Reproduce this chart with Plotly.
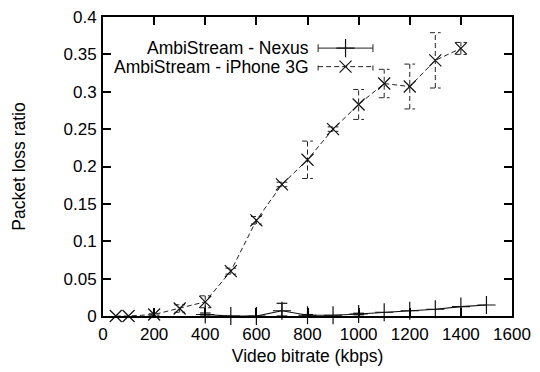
import plotly.graph_objects as go

# Packet loss vs video bitrate
iphone_kbps = [50, 100, 200, 300, 400, 500, 600, 700, 800, 900, 1000, 1100, 1200, 1300, 1400]
iphone_loss = [0.0, 0.0, 0.002, 0.010, 0.019, 0.060, 0.128, 0.176, 0.209, 0.250, 0.283, 0.311, 0.307, 0.342, 0.358]
iphone_err = [0.0, 0.0, 0.001, 0.005, 0.008, 0.004, 0.005, 0.003, 0.025, 0.003, 0.020, 0.019, 0.030, 0.037, 0.008]

nexus_kbps = [400, 500, 600, 700, 800, 900, 1000, 1100, 1200, 1300, 1400, 1500]
nexus_loss = [0.002, 0.0, 0.0, 0.007, 0.001, 0.001, 0.0027, 0.005, 0.007, 0.009, 0.0125, 0.0147]
nexus_err_up = [0.002, 0.0, 0.0, 0.010, 0.001, 0.0, 0.001, 0.0, 0.0, 0.0, 0.0, 0.0]
nexus_err_down = [0.002, 0.0, 0.0, 0.007, 0.001, 0.0, 0.001, 0.0, 0.0, 0.0, 0.0, 0.0]

x_ticks = [0, 200, 400, 600, 800, 1000, 1200, 1400, 1600]
y_ticks = [0, 0.05, 0.1, 0.15, 0.2, 0.25, 0.3, 0.35, 0.4]

series_names = ["AmbiStream - Nexus", "AmbiStream - iPhone 3G"]

FONT = "Liberation Sans, Arial, Helvetica, sans-serif"
TICK_SIZE = 17
TEXT_SIZE = 17.5
KEY_SIZE = 17.5
CAP = 21  # half width of error-bar caps, in kbps
DASH = "5px,3px"
INK = "#111"


def error_segments(xs, ys, up, down):
    """Vertical bars with caps as one broken polyline."""
    px, py = [], []
    for x, y, u, d in zip(xs, ys, up, down):
        if u == 0 and d == 0:
            continue
        lo, hi = y - d, y + u
        px += [x, x, None, x - CAP, x + CAP, None, x - CAP, x + CAP, None]
        py += [lo, hi, None, lo, lo, None, hi, hi, None]
    return px, py


fig = go.Figure()

# iPhone 3G: dashed error bars, dashed line, x markers
ex, ey = error_segments(iphone_kbps, iphone_loss, iphone_err, iphone_err)
fig.add_trace(go.Scatter(x=ex, y=ey, mode="lines", connectgaps=False,
                         line=dict(color="#222", width=1, dash=DASH),
                         showlegend=False, hoverinfo="skip", cliponaxis=False))
fig.add_trace(go.Scatter(x=iphone_kbps, y=iphone_loss, mode="lines+markers",
                         line=dict(color="#222", width=1, dash=DASH),
                         marker=dict(symbol="x-thin-open", size=12, color=INK,
                                     line=dict(color=INK, width=1.2)),
                         showlegend=False, cliponaxis=False))

# Nexus: solid error bars, solid line, + markers
nx, ny = error_segments(nexus_kbps, nexus_loss, nexus_err_up, nexus_err_down)
fig.add_trace(go.Scatter(x=nx, y=ny, mode="lines", connectgaps=False,
                         line=dict(color=INK, width=1.2),
                         showlegend=False, hoverinfo="skip", cliponaxis=False))
fig.add_trace(go.Scatter(x=nexus_kbps, y=nexus_loss, mode="lines+markers",
                         line=dict(color=INK, width=1.2),
                         marker=dict(symbol="cross-thin-open", size=13, color=INK,
                                     line=dict(color=INK, width=1.2)),
                         showlegend=False, cliponaxis=False))

# Key drawn on an overlay axis in [0, 1] units
key_x0, key_x1, key_xm = 0.526, 0.660, 0.593
key_rows = [0.896, 0.834]
key_cap = 0.013
key_styles = [
    dict(dash="solid", symbol="cross-thin-open", size=13),
    dict(dash=DASH, symbol="x-thin-open", size=12),
]
for name, ky, st in zip(series_names, key_rows, key_styles):
    fig.add_trace(go.Scatter(
        x=[key_x0, key_x1, None, key_x0, key_x0, None, key_x1, key_x1],
        y=[ky, ky, None, ky - key_cap, ky + key_cap, None, ky - key_cap, ky + key_cap],
        mode="lines", line=dict(color="#222", width=1, dash=st["dash"]),
        xaxis="x2", yaxis="y2", showlegend=False, hoverinfo="skip"))
    fig.add_trace(go.Scatter(
        x=[key_xm], y=[ky], mode="markers",
        marker=dict(symbol=st["symbol"], size=st["size"], color=INK,
                    line=dict(color=INK, width=1.2)),
        xaxis="x2", yaxis="y2", showlegend=False, hoverinfo="skip"))
    fig.add_annotation(x=0.506, y=ky, xref="paper", yref="paper",
                       text=name, showarrow=False, xanchor="right", yanchor="middle",
                       borderpad=0,
                       font=dict(family=FONT, size=KEY_SIZE, color="black"))

axis_common = dict(
    showline=True, linecolor="black", linewidth=2, mirror="ticks",
    ticks="inside", ticklen=8, tickwidth=1.5, tickcolor="black",
    showgrid=False, zeroline=False, automargin=False,
    tickfont=dict(family=FONT, size=TICK_SIZE, color="black"),
)

fig.update_layout(
    width=540, height=372,
    margin=dict(l=103, r=28, t=17, b=56),
    paper_bgcolor="white", plot_bgcolor="white",
    xaxis=dict(range=[0, 1600], tickvals=x_ticks, ticktext=[str(v) for v in x_ticks],
               ticklabelstandoff=2,
               title=dict(text="Video bitrate (kbps)", standoff=6,
                          font=dict(family=FONT, size=TEXT_SIZE, color="black")),
               **axis_common),
    yaxis=dict(range=[0, 0.4], tickvals=y_ticks, ticktext=[f"{v:g}" for v in y_ticks],
               ticklabelstandoff=1,
               title=dict(text="Packet loss ratio", standoff=33,
                          font=dict(family=FONT, size=TEXT_SIZE, color="black")),
               **axis_common),
    xaxis2=dict(range=[0, 1], overlaying="x", visible=False, fixedrange=True),
    yaxis2=dict(range=[0, 1], overlaying="y", visible=False, fixedrange=True),
    showlegend=False,
)

fig.write_html("out.html")
